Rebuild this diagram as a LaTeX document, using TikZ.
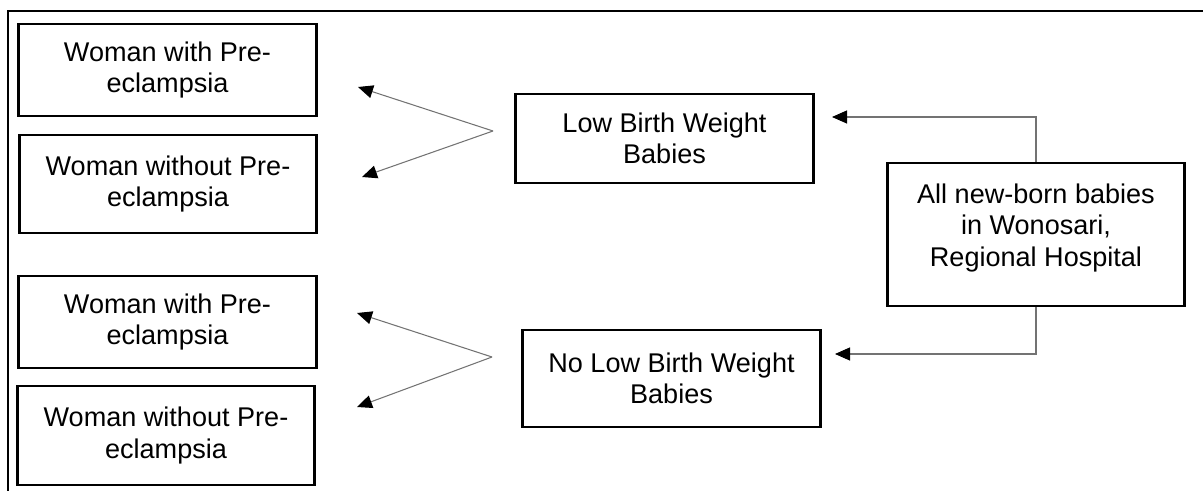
\documentclass[tikz,border=0pt]{standalone}
\usepackage{fontspec}
\setmainfont{Liberation Sans}
\usetikzlibrary{arrows.meta}
\pgfdeclarelayer{edgelayer}
\pgfdeclarelayer{nodelayer}
\pgfsetlayers{edgelayer,nodelayer,main}
\tikzset{font=\fontsize{15.4}{18}\selectfont}
\tikzstyle{none}=[inner sep=0pt]
\tikzstyle{box}=[draw,line width=1.5pt,minimum width=5.95cm,align=center,inner sep=2pt]
\tikzstyle{arr}=[draw=black!55,line width=0.6pt,-{Triangle[length=0.3cm,width=0.26cm,black]}]
\begin{document}
\begin{tikzpicture}
	\useasboundingbox (0,0) rectangle (24.06,-9.82);
	\begin{pgfonlayer}{nodelayer}
		\node [style=box, minimum height=1.84cm] (0) at (3.35, -1.40) {Woman with Pre-\\eclampsia};
		\node [style=box, minimum height=1.96cm] (1) at (3.36, -3.68) {Woman without Pre-\\eclampsia};
		\node [style=box, minimum height=1.84cm] (2) at (3.35, -6.44) {Woman with Pre-\\eclampsia};
		\node [style=box, minimum height=1.98cm] (3) at (3.32, -8.71) {Woman without Pre-\\eclampsia};
		\node [style=box, minimum height=1.78cm] (4) at (13.29, -2.77) {Low Birth Weight\\Babies};
		\node [style=box, minimum height=1.94cm] (5) at (13.43, -7.57) {No Low Birth Weight\\Babies};
		\node [style=box, minimum height=2.86cm] (6) at (20.72, -4.69) {All new-born babies\\in Wonosari,\\Regional Hospital\\[-0.25cm]\mbox{}};
		\node [style=none] (7) at (9.86, -2.62) {};
		\node [style=none] (8) at (7.16, -1.74) {};
		\node [style=none] (9) at (7.24, -3.54) {};
		\node [style=none] (10) at (9.84, -7.14) {};
		\node [style=none] (11) at (7.14, -6.26) {};
		\node [style=none] (12) at (7.14, -8.14) {};
		\node [style=none] (13) at (16.64, -2.34) {};
		\node [style=none] (14) at (16.70, -7.08) {};
		\node [style=none] (15) at (0.16, -9.82) {};
		\node [style=none] (16) at (0.16, -0.22) {};
		\node [style=none] (17) at (24.06, -0.22) {};
	\end{pgfonlayer}
	\begin{pgfonlayer}{edgelayer}
		\draw[line width=1.1pt] (15.center) to (16.center) to (17.center);
		\draw[style=arr] (7.center) to (8.center);
		\draw[style=arr] (7.center) to (9.center);
		\draw[style=arr] (10.center) to (11.center);
		\draw[style=arr] (10.center) to (12.center);
		\draw[style=arr] (6.north) |- (13.center);
		\draw[style=arr] (6.south) |- (14.center);
	\end{pgfonlayer}
\end{tikzpicture}
\end{document}
